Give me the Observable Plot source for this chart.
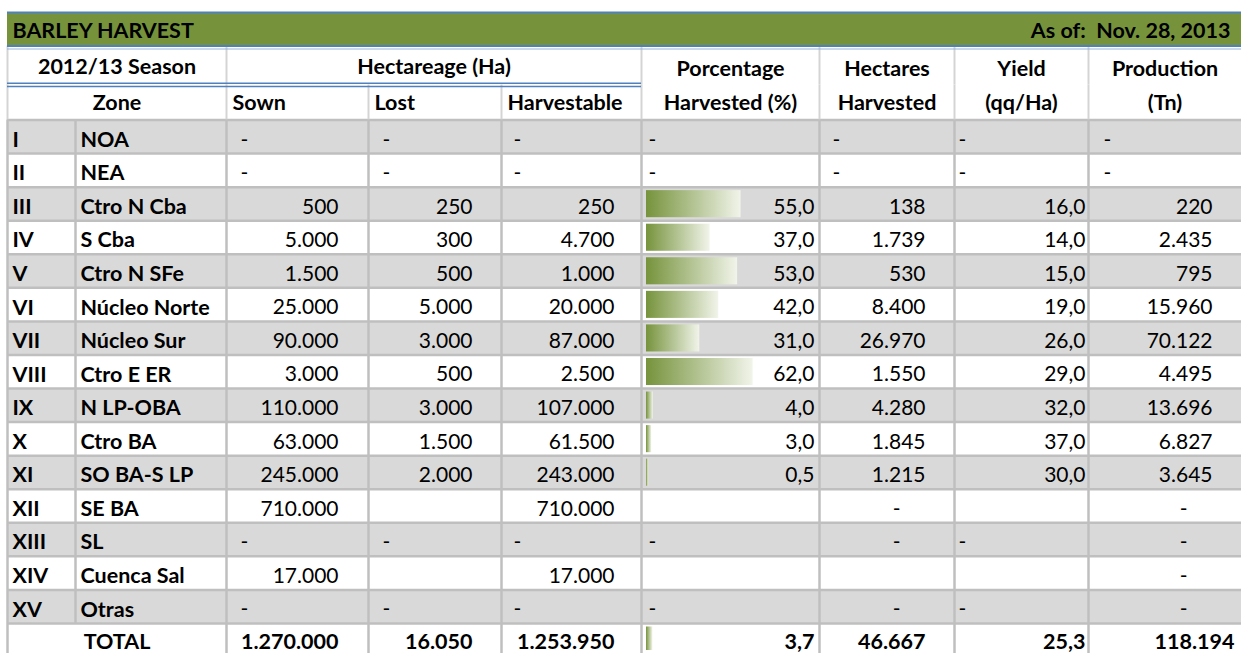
<!DOCTYPE html>
<html><head><meta charset="utf-8">
<script src="https://cdn.jsdelivr.net/npm/d3@7"></script>
<script src="https://cdn.jsdelivr.net/npm/@observablehq/plot@0.6"></script>
<style>html,body{margin:0;padding:0;background:#fff}svg{display:block}</style>
</head><body><div id="chart"></div>
<script>
// ---------- DATA ----------
const title = "BARLEY HARVEST";
const asOf = "As of:  Nov. 28, 2013";
const seasonLabel = "2012/13 Season";
const groupLabel = "Hectareage (Ha)";
const zoneLabel = "Zone";
const totalLabel = "TOTAL";
const columnHeads = [["Sown"], ["Lost"], ["Harvestable"], ["Porcentage", "Harvested (%)"], ["Hectares", "Harvested"], ["Yield", "(qq/Ha)"], ["Production", "(Tn)"]];
const roman = ["I","II","III","IV","V","VI","VII","VIII","IX","X","XI","XII","XIII","XIV","XV"];
const zones = ["NOA","NEA","Ctro N Cba","S Cba","Ctro N SFe","Núcleo Norte","Núcleo Sur","Ctro E ER","N LP-OBA","Ctro BA","SO BA-S LP","SE BA","SL","Cuenca Sal","Otras"];
// "-" = dash text, 0 = zero shown as dash, null = empty cell
const sown        = ["-","-",500,5000,1500,25000,90000,3000,110000,63000,245000,710000,"-",17000,"-"];
const lost        = ["-","-",250,300,500,5000,3000,500,3000,1500,2000,null,"-",null,"-"];
const harvestable = ["-","-",250,4700,1000,20000,87000,2500,107000,61500,243000,710000,"-",17000,"-"];
const pctHarvested = ["-","-",55,37,53,42,31,62,4,3,0.5,null,"-",null,"-"];
const hectaresHarvested = ["-","-",138,1739,530,8400,26970,1550,4280,1845,1215,0,0,null,0];
const yieldQq     = ["-","-",16,14,15,19,26,29,32,37,30,null,"-",null,"-"];
const production  = ["-","-",220,2435,795,15960,70122,4495,13696,6827,3645,0,0,0,0];
const totalValues = [1270000,16050,1253950,3.7,46667,25.3,118194];

// ---------- LAYOUT ----------
const colEdges = [7, 75, 226, 368, 501, 641, 819, 954, 1088, 1241];
const rowDomain = [0, 1, 2, 3, 18, 19];
const rowRange = [12, 45.5, 84.5, 119.5, 623, 653];
const colSpec = [
  {col: 2, dec: 0, padR: 30, dashL: 14},
  {col: 3, dec: 0, padR: 29, dashL: 14},
  {col: 4, dec: 0, padR: 27, dashL: 12},
  {col: 5, dec: 1, padR: 5, dashL: 7},
  {col: 6, dec: 0, padR: 29, dashL: 13},
  {col: 7, dec: 1, padR: 3, dashL: 4},
  {col: 8, dec: 0, padR: 29, dashL: 15}
];
const zeroDashPad = 54;
const barFull = 0.966;       // share of the % cell used by a 100% bar
const barMin = 0.012;        // minimum visible bar length (share of cell)
const FONT = "Lato";
const FS_BOLD = 21.5, FS_NUM = 21;
const GREEN = "#76933c", BLUE = "#4f81bd", GRID = "#bfbfbf", BAND = "#d9d9d9";

const valueCols = [sown, lost, harvestable, pctHarvested, hectaresHarvested, yieldQq, production];
const xs = d3.scaleLinear().domain(d3.range(colEdges.length)).range(colEdges);
const ys = d3.scaleLinear().domain(rowDomain).range(rowRange);
const px = (c, off) => xs.invert(xs(c) + off);          // column edge + pixel offset, in column units
const mid = (a, b) => xs.invert((xs(a) + xs(b)) / 2);

const loc = d3.formatLocale({decimal: ",", thousands: ".", grouping: [3], currency: ["", ""]});
const fmts = [loc.format(",.0f"), loc.format(",.1f")];

// ---------- CELLS ----------
const cells = [];
const add = (x, y, t, anchor, bold, dy = 3) => cells.push({x, y, t, anchor, bold, dy});
add(px(0, 5), 0.5, title, "start", true, 2);
add(px(9, -11), 0.5, asOf, "end", true, 2);
add(mid(0, 2), 1.5, seasonLabel, "middle", true, 2);
add(mid(2, 5), 1.5, groupLabel, "middle", true, 2);
add(mid(0, 2), 2.5, zoneLabel, "middle", true, 1);
columnHeads.forEach((h, k) => {
  const c = colSpec[k].col;
  if (h.length === 1) add(px(c, 6), 2.5, h[0], "start", true, 1);
  else { add(mid(c, c + 1), 1.5, h[0], "middle", true, 4); add(mid(c, c + 1), 2.5, h[1], "middle", true, 1); }
});
roman.forEach((r, i) => {
  add(px(0, 5), 3.5 + i, r, "start", true);
  add(px(1, 5), 3.5 + i, zones[i], "start", true);
  valueCols.forEach((arr, k) => {
    const v = arr[i], s = colSpec[k];
    if (v == null) return;
    if (v === "-") add(px(s.col, s.dashL), 3.5 + i, "-", "start", false);
    else if (v === 0) add(px(s.col + 1, -zeroDashPad), 3.5 + i, "-", "end", false);
    else add(px(s.col + 1, -s.padR), 3.5 + i, fmts[s.dec](v), "end", false);
  });
});
add(mid(0, 2), 18.5, totalLabel, "middle", true, 4);
totalValues.forEach((v, k) => {
  const s = colSpec[k];
  const pad = k === 6 ? 7 : s.padR;
  add(px(s.col + 1, -pad), 18.5, fmts[s.dec](v), "end", true, 4);
});

// bars for % harvested
const bars = [];
pctHarvested.forEach((v, i) => { if (typeof v === "number" && v > 0) bars.push({row: 3 + i, v}); });
bars.push({row: 18, v: totalValues[3]});

// row bands
const bandRows = roman.map((r, i) => 3 + i).filter(r => (r - 3) % 2 === 0);

// vertical grid segments
const vsegs = [];
[0, 2, 5, 6, 7, 8].forEach(c => vsegs.push({x: c, y1: 1, y2: 2}));
[0, 2, 3, 4, 5, 6, 7, 8].forEach(c => vsegs.push({x: c, y1: 2, y2: 3}));
[0, 1, 2, 3, 4, 5, 6, 7, 8].forEach(c => vsegs.push({x: c, y1: 3, y2: 18}));
[0, 2, 3, 4, 5, 6, 7, 8].forEach(c => vsegs.push({x: c, y1: 18, y2: 19}));

const textMark = (anchor, bold, dy) => Plot.text(cells, {
  filter: d => d.anchor === anchor && d.bold === bold && d.dy === dy,
  x: "x", y: "y", text: "t", textAnchor: anchor, dy,
  fontWeight: bold ? "bold" : "normal", fontSize: bold ? FS_BOLD : FS_NUM, fill: "#000"
});
const textMarks = [];
for (const a of ["start", "middle", "end"]) for (const b of [true, false]) for (const dy of [1, 2, 3, 4]) textMarks.push(textMark(a, b, dy));

const chart = Plot.plot({
  width: 1241, height: 653,
  marginTop: 0, marginRight: 0, marginBottom: 0, marginLeft: 0,
  style: {fontFamily: FONT, background: "#fff"},
  x: {type: "linear", transform: xs, domain: [0, 1241], range: [0, 1241], axis: null},
  y: {type: "linear", transform: ys, domain: [0, 653], range: [0, 653], axis: null},
  marks: [
    Plot.rect([0], {x1: 0, x2: 9, y1: 0, y2: 1, fill: GREEN}),
    Plot.rect(bandRows, {x1: 0, x2: 9, y1: d => d, y2: d => d + 1, fill: BAND}),
    Plot.rect(bars, {x1: 5, x2: d => 5 + Math.max(barMin, d.v / 100 * barFull), y1: "row", y2: d => d.row + 1, dx: 5, insetTop: 3.5, insetBottom: 3, fill: "url(#barGrad)"}),
    Plot.ruleY(d3.range(3, 19), {x1: 0, x2: 9, stroke: GRID, strokeWidth: 2.5}),
    Plot.ruleX(vsegs.filter(d => d.y1 < 3), {x: "x", y1: "y1", y2: "y2", stroke: "#d4d4d4", strokeWidth: 2}),
    Plot.ruleX(vsegs.filter(d => d.y1 >= 3), {x: "x", y1: "y1", y2: "y2", stroke: GRID, strokeWidth: 2.5}),
    Plot.ruleY([0], {x1: 0, x2: 9, stroke: BLUE, strokeWidth: 2}),
    Plot.ruleY([1], {x1: 0, x2: 9, stroke: BLUE, strokeWidth: 2}),
    Plot.ruleY([1], {x1: 0, x2: 9, stroke: "#95b3d7", strokeWidth: 1, dy: 3}),
    Plot.ruleY([2], {x1: 0, x2: 5, stroke: BLUE, strokeWidth: 1.5, dy: -1.8}),
    Plot.ruleY([2], {x1: 0, x2: 5, stroke: BLUE, strokeWidth: 1.5, dy: 1.6}),
    ...textMarks
  ]
});

// gradient used by the data bars
const ns = "http://www.w3.org/2000/svg";
const defs = document.createElementNS(ns, "defs");
const lg = document.createElementNS(ns, "linearGradient");
lg.setAttribute("id", "barGrad"); lg.setAttribute("x1", "0"); lg.setAttribute("x2", "1"); lg.setAttribute("y1", "0"); lg.setAttribute("y2", "0");
[["0", GREEN], ["1", "#f1f4ea"]].forEach(([o, c]) => {
  const s = document.createElementNS(ns, "stop"); s.setAttribute("offset", o); s.setAttribute("stop-color", c); lg.appendChild(s);
});
defs.appendChild(lg);
chart.insertBefore(defs, chart.firstChild);
document.getElementById("chart").appendChild(chart);
</script>
</body></html>
